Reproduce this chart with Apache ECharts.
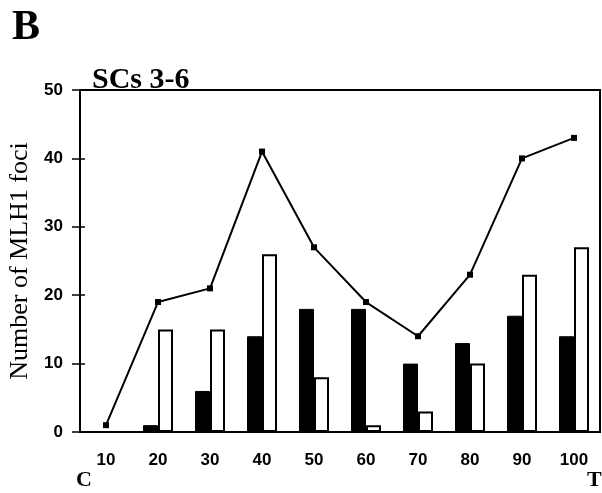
<!DOCTYPE html>
<html>
<head>
<meta charset="utf-8">
<script src="https://cdn.jsdelivr.net/npm/echarts@6/dist/echarts.min.js"></script>
<style>
html, body { margin: 0; padding: 0; background: #fff; }
#chart { width: 602px; height: 493px; }
</style>
</head>
<body>
<div id="chart"></div>
<script>
var positions = ['10', '20', '30', '40', '50', '60', '70', '80', '90', '100'];
var blackBars = [0, 1, 6, 14, 18, 18, 10, 13, 17, 14];
var whiteBars = [0, 15, 15, 26, 8, 1, 3, 10, 23, 27];
var totalFoci = [1, 19, 21, 41, 27, 19, 14, 23, 40, 43];
var yTicks = [0, 10, 20, 30, 40, 50];

var myChart = echarts.init(document.getElementById('chart'));

var serif = '"Liberation Serif", "Times New Roman", serif';
var sans = '"Liberation Sans", Arial, sans-serif';

var option = {
    animation: false,
    title: {
        text: 'SCs 3-6',
        left: 87,
        top: 60,
        textStyle: { fontFamily: serif, fontWeight: 'bold', fontSize: 30, color: '#000' }
    },
    graphic: [
        { type: 'text', left: 12, top: 7, style: { text: 'B', font: 'bold 42px ' + serif, fill: '#000' } },
        { type: 'text', left: 76, top: 469, style: { text: 'C', font: 'bold 22px ' + serif, fill: '#000' } },
        { type: 'text', left: 587, top: 469, style: { text: 'T', font: 'bold 22px ' + serif, fill: '#000' } }
    ],
    grid: {
        left: 80, right: 2, top: 90, bottom: 61,
        containLabel: false,
        outerBoundsMode: 'none',
        show: true, borderColor: '#000', borderWidth: 2, backgroundColor: 'transparent'
    },
    xAxis: [{
        type: 'category',
        data: positions,
        axisLine: { lineStyle: { color: '#000', width: 2 } },
        axisTick: { length: 5, lineStyle: { color: '#000', width: 1.5 } },
        axisLabel: { margin: 20, color: '#000', fontFamily: sans, fontWeight: 'bold', fontSize: 17 }
    }, {
        type: 'category',
        data: positions,
        position: 'bottom',
        axisLine: { show: false },
        axisTick: { inside: true, length: 3, lineStyle: { color: '#000', width: 1.5 } },
        axisLabel: { show: false }
    }],
    yAxis: [{
        type: 'value',
        min: 0, max: 50, interval: 10,
        name: 'Number of MLH1 foci',
        nameLocation: 'middle',
        nameGap: 43,
        nameTextStyle: { fontFamily: serif, fontSize: 26, color: '#000' },
        splitLine: { show: false },
        axisLine: { show: true, lineStyle: { color: '#000', width: 2 } },
        axisTick: { show: true, length: 8, lineStyle: { color: '#000', width: 1.5 } },
        axisLabel: {
            margin: 17, color: '#000', fontFamily: sans, fontWeight: 'bold', fontSize: 17,
            formatter: function (v) { return yTicks.indexOf(v) >= 0 ? String(v) : ''; }
        }
    }, {
        type: 'value',
        min: 0, max: 50, interval: 10,
        position: 'left',
        splitLine: { show: false },
        axisLine: { show: false },
        axisTick: { show: true, inside: true, length: 5, lineStyle: { color: '#000', width: 1.5 } },
        axisLabel: { show: false }
    }],
    series: [{
        name: 'black',
        type: 'bar',
        data: blackBars,
        barWidth: 15,
        barGap: '0%',
        itemStyle: { color: '#000', borderColor: '#000', borderWidth: 1 }
    }, {
        name: 'white',
        type: 'bar',
        data: whiteBars,
        barWidth: 15,
        barGap: '0%',
        itemStyle: { color: '#fff', borderColor: '#000', borderWidth: 2 }
    }, {
        name: 'total',
        type: 'line',
        data: totalFoci,
        symbol: 'rect',
        symbolSize: 6,
        z: 5,
        lineStyle: { color: '#000', width: 2 },
        itemStyle: { color: '#000' }
    }]
};

myChart.setOption(option);
</script>
</body>
</html>
